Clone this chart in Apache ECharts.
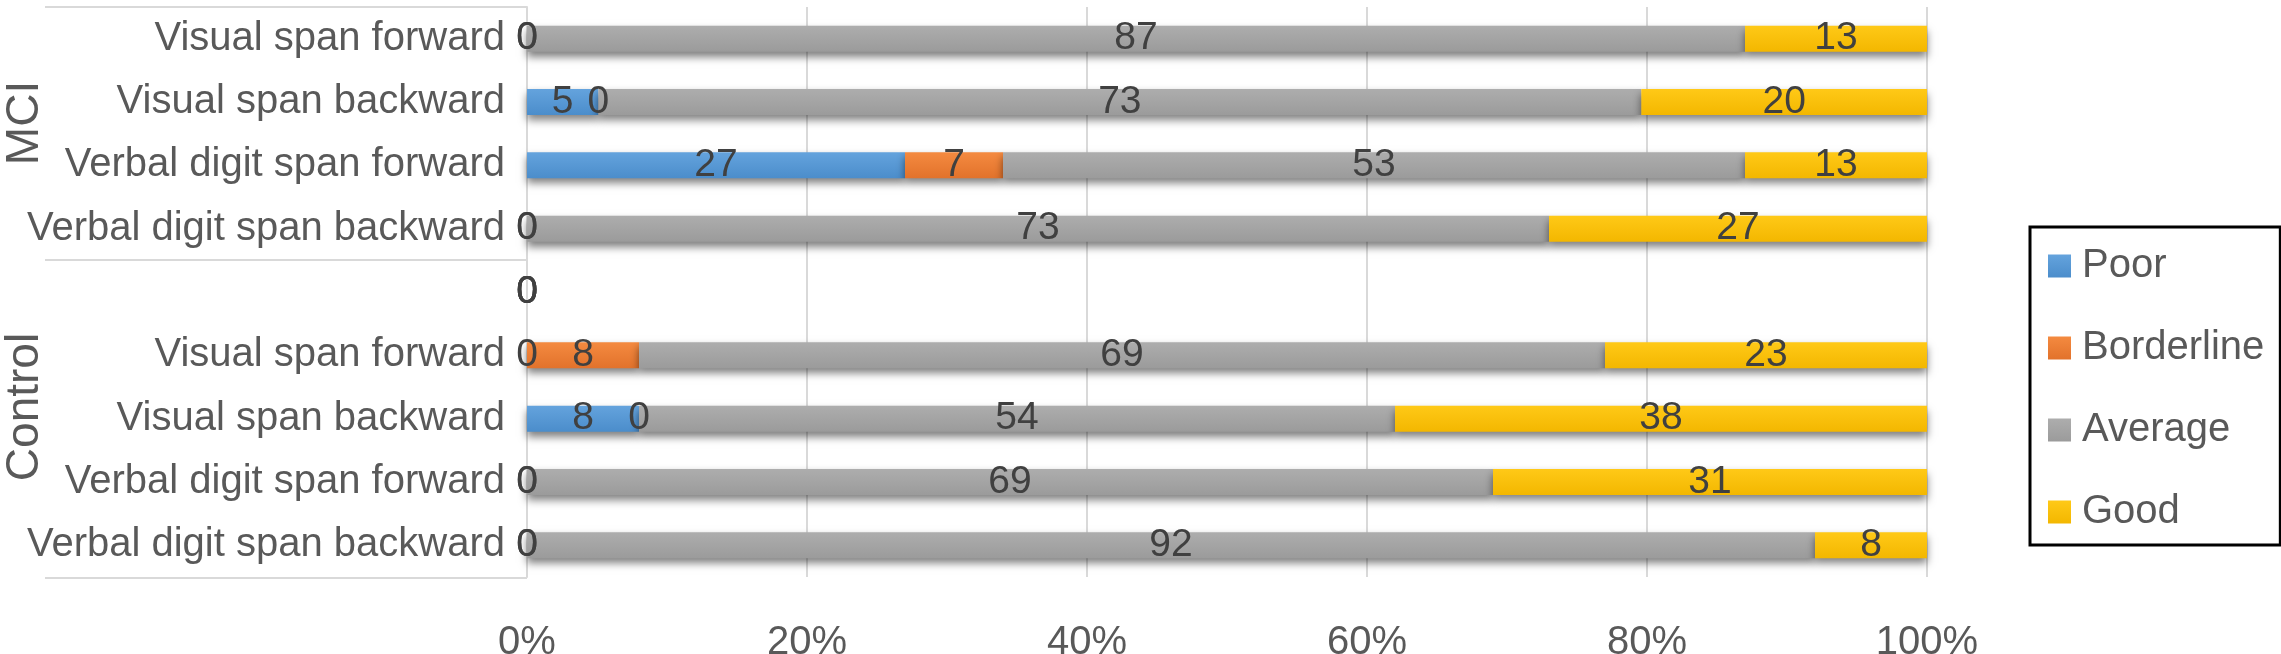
<!DOCTYPE html>
<html>
<head>
<meta charset="utf-8">
<script src="https://cdn.jsdelivr.net/npm/echarts@6/dist/echarts.min.js"></script>
<style>
  html, body { margin: 0; padding: 0; background: #fff; }
  #main { width: 2281px; height: 654px; }
</style>
</head>
<body>
<div id="main"></div>
<script>
// rows top to bottom (MCI group, blank spacer, Control group)
const categories = [
  "Visual span forward",
  "Visual span backward",
  "Verbal digit span forward",
  "Verbal digit span backward",
  "",
  "Visual span forward",
  "Visual span backward",
  "Verbal digit span forward",
  "Verbal digit span backward",
];
const poor = [0, 5, 27, 0, 0, 0, 8, 0, 0];
const borderline = [0, 0, 7, 0, 0, 8, 0, 0, 0];
const average = [87, 73, 53, 73, 0, 69, 54, 69, 92];
const good = [13, 20, 13, 27, 0, 23, 38, 31, 8];
const xTicks = [0, 20, 40, 60, 80, 100];

const colors = {
  Poor: ["#64a3dd", "#4b8dcb"],
  Borderline: ["#f48a40", "#e2722b"],
  Average: ["#adadad", "#9b9b9b"],
  Good: ["#ffc917", "#f3b700"],
};

// 100% stacked: each row is scaled to its own total, the label keeps the raw number
const totals = categories.map((c, i) => poor[i] + borderline[i] + average[i] + good[i]);

function makeSeries(name, data) {
  return {
    name: name,
    type: "bar",
    stack: "total",
    data: data.map((v, i) => ({
      value: totals[i] ? (v / totals[i]) * 100 : 0,
      raw: v,
    })),
    barWidth: 26,
    itemStyle: {
      color: new echarts.graphic.LinearGradient(0, 0, 0, 1, [
        { offset: 0, color: colors[name][0] },
        { offset: 1, color: colors[name][1] },
      ]),
      shadowColor: "rgba(0,0,0,0.5)",
      shadowBlur: 8,
      shadowOffsetY: 5,
    },
    label: {
      show: true,
      position: "inside",
      color: "#404040",
      fontSize: 39,
      fontFamily: "Liberation Sans, Arial, sans-serif",
      formatter: (p) => String(p.data.raw),
    },
  };
}

var chart = echarts.init(document.getElementById("main"));
chart.setOption({
  animation: false,
  textStyle: { fontFamily: "Liberation Sans, Arial, sans-serif" },
  grid: { left: 527, right: 354, top: 7, bottom: 77, outerBoundsMode: "none", containLabel: false },
  legend: {
    orient: "vertical",
    left: 2030,
    top: 227,
    padding: [19, 16, 13, 18],
    borderColor: "#000",
    borderWidth: 3,
    icon: "rect",
    itemWidth: 23,
    itemHeight: 23,
    itemGap: 42,
    textStyle: {
      fontSize: 40,
      lineHeight: 40,
      color: "#595959",
      padding: [0, 0, 0, 6],
    },
    data: ["Poor", "Borderline", "Average", "Good"],
  },
  xAxis: {
    type: "value",
    min: xTicks[0],
    max: xTicks[xTicks.length - 1],
    interval: 20,
    axisLine: { show: false },
    axisTick: { show: false },
    splitLine: { lineStyle: { color: "#d9d9d9", width: 2 } },
    axisLabel: {
      formatter: "{value}%",
      fontSize: 40,
      color: "#595959",
      margin: 46,
    },
  },
  yAxis: {
    type: "category",
    inverse: true,
    data: categories,
    axisLine: { show: true, lineStyle: { color: "#d9d9d9", width: 2 } },
    axisTick: { show: false },
    axisLabel: { fontSize: 40, color: "#595959", margin: 22 },
  },
  graphic: [
    { type: "line", shape: { x1: 45, y1: 7, x2: 527, y2: 7 }, style: { stroke: "#d9d9d9", lineWidth: 2 } },
    { type: "line", shape: { x1: 45, y1: 260, x2: 527, y2: 260 }, style: { stroke: "#d9d9d9", lineWidth: 2 } },
    { type: "line", shape: { x1: 45, y1: 578, x2: 527, y2: 578 }, style: { stroke: "#d9d9d9", lineWidth: 2 } },
    {
      type: "text", x: 25, y: 123, rotation: Math.PI / 2,
      style: { text: "MCI", fontSize: 46, fill: "#595959", align: "center", verticalAlign: "middle",
        fontFamily: "Liberation Sans, Arial, sans-serif" },
    },
    {
      type: "text", x: 25, y: 407, rotation: Math.PI / 2,
      style: { text: "Control", fontSize: 46, fill: "#595959", align: "center", verticalAlign: "middle",
        fontFamily: "Liberation Sans, Arial, sans-serif" },
    },
  ],
  series: [
    makeSeries("Poor", poor),
    makeSeries("Borderline", borderline),
    makeSeries("Average", average),
    makeSeries("Good", good),
  ],
});
</script>
</body>
</html>
